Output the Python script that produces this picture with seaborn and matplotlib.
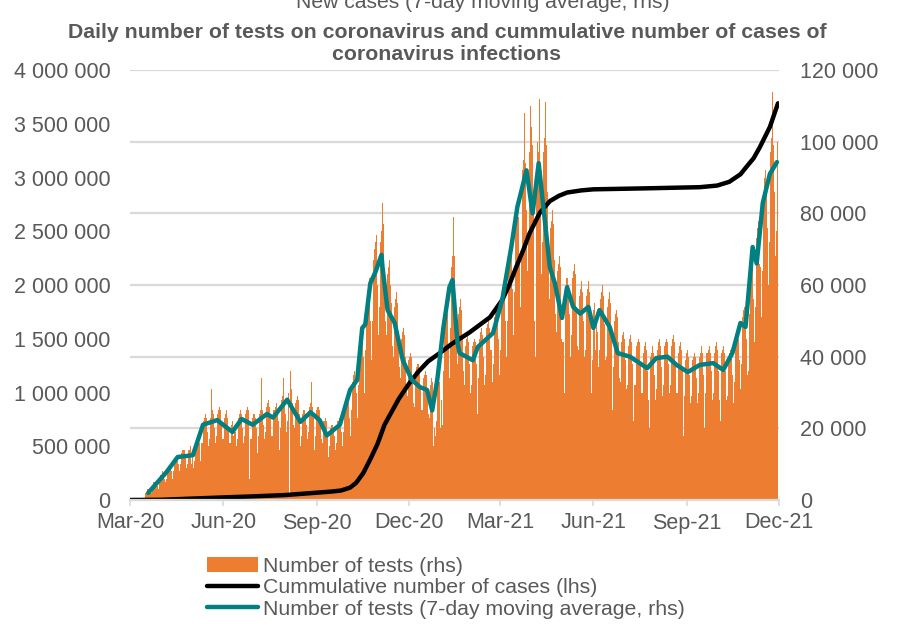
import numpy as np
import pandas as pd
import matplotlib
matplotlib.use("Agg")
import matplotlib.pyplot as plt
from matplotlib.lines import Line2D
from matplotlib.patches import Patch
from matplotlib.ticker import FuncFormatter, MultipleLocator
import seaborn as sns

# ─── Data ────────────────────────────────────────────────────────────────────

# daily number of tests, thousands, one row per week (Mon..Sun), from 2020-03-16
TESTS_START = "2020-03-16"
tests_spring_2020 = [
    2, 2, 3, 3, 3, 3, 2,
    4, 5, 5, 5, 5, 4, 3,
    5, 7, 7, 8, 7, 6, 5,
    6, 9, 9, 9, 9, 8, 6,
    8, 11, 11, 12, 11, 10, 8,
    10, 13, 14, 14, 14, 12, 9,
    10, 14, 14, 15, 10, 12, 9,
    11, 14, 17, 18, 19, 16, 11,
    16, 22, 23, 24, 23, 19, 15,
    17, 23, 31, 25, 24, 20, 16,
    18, 24, 25, 26, 25, 21, 17,
    17, 23, 24, 25, 23, 20, 16,
    16, 21, 22, 18, 21, 19, 15,
]
tests_summer_2020 = [
    17, 23, 24, 25, 24, 20, 16,
    18, 24, 25, 26, 25, 6, 17,
    17, 23, 24, 24, 23, 20, 13,
    18, 24, 25, 34, 25, 21, 17,
    19, 26, 27, 28, 26, 23, 18,
    18, 25, 26, 27, 25, 22, 14,
    20, 28, 29, 34, 28, 24, 19,
    22, 30, 1, 36, 31, 27, 21,
    20, 27, 28, 29, 28, 24, 15,
    18, 24, 25, 25, 24, 21, 17,
    19, 26, 27, 33, 26, 23, 14,
    18, 25, 26, 26, 25, 22, 17,
    16, 22, 22, 23, 22, 19, 12,
]
tests_autumn_2020 = [
    15, 20, 21, 21, 20, 18, 14,
    16, 22, 22, 23, 22, 19, 15,
    19, 26, 27, 28, 27, 23, 18,
    25, 33, 35, 36, 34, 30, 23,
    32, 43, 45, 46, 48, 40, 30,
    42, 56, 58, 60, 62, 50, 39,
    50, 67, 70, 72, 74, 60, 46,
    54, 72, 75, 83, 77, 64, 50,
    46, 63, 65, 67, 60, 55, 43,
    40, 54, 56, 58, 55, 47, 37,
    34, 45, 47, 48, 46, 40, 31,
    29, 39, 40, 41, 40, 34, 27,
    26, 36, 37, 38, 36, 31, 25,
    25, 34, 35, 36, 35, 30, 24,
    23, 32, 34, 33, 15, 20, 18,
    22, 32, 36, 33, 20, 28, 21,
]
tests_spring_2021 = [
    36, 49, 52, 54, 52, 43, 34,
    48, 65, 68, 79, 68, 57, 45,
    38, 52, 54, 56, 53, 46, 36,
    32, 43, 45, 46, 44, 38, 30,
    32, 43, 44, 45, 44, 38, 24,
    34, 45, 47, 48, 46, 40, 32,
    35, 48, 49, 51, 48, 42, 33,
    38, 51, 53, 54, 52, 45, 35,
    42, 57, 59, 61, 58, 50, 40,
    50, 67, 69, 71, 68, 59, 46,
    58, 78, 81, 83, 79, 68, 54,
    68, 92, 95, 108, 94, 81, 64,
    72, 97, 110, 104, 99, 86, 50,
    40, 88, 100, 97, 112, 85, 63,
]
tests_summer_2021 = [
    72, 97, 101, 111, 99, 86, 68,
    56, 76, 78, 81, 77, 67, 52,
    47, 64, 66, 68, 65, 45, 44,
    30, 56, 62, 62, 60, 52, 40,
    46, 62, 64, 66, 63, 54, 43,
    42, 57, 59, 61, 58, 50, 40,
    42, 57, 59, 61, 58, 50, 30,
    39, 53, 55, 42, 52, 47, 37,
    42, 56, 58, 60, 57, 49, 39,
    40, 54, 56, 58, 55, 47, 25,
    37, 50, 52, 53, 51, 44, 34,
    33, 44, 46, 47, 45, 39, 31,
    32, 43, 45, 46, 44, 38, 22,
    32, 43, 44, 45, 44, 38, 30,
    30, 41, 43, 44, 42, 36, 28,
    20, 40, 41, 43, 41, 35, 28,
]
tests_autumn_2021 = [
    31, 42, 44, 45, 43, 37, 29,
    32, 43, 44, 45, 44, 38, 30,
    32, 43, 45, 46, 44, 38, 30,
    30, 41, 43, 44, 42, 36, 18,
    29, 39, 41, 42, 40, 35, 27,
    29, 39, 40, 41, 40, 34, 27,
    30, 40, 41, 43, 41, 35, 20,
    30, 41, 42, 43, 41, 36, 28,
    30, 41, 43, 44, 42, 36, 28,
    22, 41, 42, 43, 41, 36, 28,
    29, 39, 41, 42, 40, 35, 27,
    33, 44, 46, 47, 45, 39, 31,
    38, 51, 53, 54, 52, 45, 35,
    36, 52, 66, 68, 65, 56, 44,
    54, 73, 76, 78, 66, 65, 51,
    64, 86, 90, 92, 88, 76, 60,
    72, 97, 101, 114, 99, 86, 68,
    75, 100,
]

# 7-day moving average of tests, thousands
avg_dates = [
    "2020-03-19", "2020-04-06", "2020-04-17", "2020-05-02", "2020-05-12",
    "2020-05-26", "2020-06-10", "2020-06-19", "2020-06-30", "2020-07-14",
    "2020-07-20", "2020-08-03", "2020-08-16", "2020-08-26", "2020-09-04",
    "2020-09-11", "2020-09-24", "2020-10-04", "2020-10-11", "2020-10-16",
    "2020-10-19", "2020-10-24", "2020-10-29", "2020-11-04", "2020-11-05",
    "2020-11-10", "2020-11-17", "2020-11-25", "2020-12-04", "2020-12-12",
    "2020-12-19", "2020-12-24", "2020-12-29", "2021-01-04", "2021-01-10",
    "2021-01-13", "2021-01-18", "2021-01-20", "2021-02-02", "2021-02-07",
    "2021-02-22", "2021-03-03", "2021-03-12", "2021-03-18", "2021-03-27",
    "2021-04-02", "2021-04-08", "2021-04-19", "2021-04-24", "2021-05-01",
    "2021-05-06", "2021-05-12", "2021-05-19", "2021-05-27", "2021-06-01",
    "2021-06-07", "2021-06-17", "2021-06-25", "2021-07-07", "2021-07-24",
    "2021-08-02", "2021-08-13", "2021-08-22", "2021-09-02", "2021-09-14",
    "2021-09-27", "2021-10-07", "2021-10-16", "2021-10-24", "2021-10-29",
    "2021-11-05", "2021-11-09", "2021-11-15", "2021-11-22", "2021-11-29",
]
avg_tests_k = [
    2, 7.8, 12, 12.5, 21,
    22.3, 19, 22.6, 21, 24,
    23, 28, 21.8, 24.5, 22.3,
    18, 21, 30.7, 33.5, 48,
    49, 60.5, 63.6, 68.4, 65,
    53, 49.4, 39, 33.5, 31.5,
    30.7, 25, 33.5, 48, 59.4,
    61.4, 43.8, 41, 39, 42.7,
    46.6, 55.8, 70.6, 81.8, 92,
    80, 94, 65, 60.5, 50.8,
    59.4, 53.9, 52, 53.9, 48,
    53, 48.3, 41, 40, 36.8,
    39.6, 40, 37.7, 35.7, 37.7,
    38.2, 36.3, 41, 49.4, 48.3,
    70.6, 66, 82.9, 91, 94.3,
]

# cumulative number of cases, millions
cases_dates = [
    "2020-03-01", "2020-04-01", "2020-05-01", "2020-06-01", "2020-07-01",
    "2020-08-01", "2020-09-01", "2020-09-15", "2020-09-25", "2020-10-04",
    "2020-10-10", "2020-10-17", "2020-10-24", "2020-10-31", "2020-11-07",
    "2020-11-14", "2020-11-21", "2020-12-01", "2020-12-10", "2020-12-20",
    "2021-01-01", "2021-01-12", "2021-01-30", "2021-02-19", "2021-03-03",
    "2021-03-10", "2021-03-17", "2021-03-24", "2021-03-30", "2021-04-09",
    "2021-04-19", "2021-04-28", "2021-05-06", "2021-05-20", "2021-06-01",
    "2021-07-27", "2021-09-14", "2021-10-01", "2021-10-13", "2021-10-24",
    "2021-10-30", "2021-11-06", "2021-11-12", "2021-11-22", "2021-11-30",
]
cases_m = [
    0, 0.002, 0.013, 0.024, 0.034,
    0.046, 0.068, 0.078, 0.088, 0.115,
    0.16, 0.25, 0.38, 0.52, 0.70,
    0.82, 0.94, 1.08, 1.19, 1.29,
    1.37, 1.45, 1.56, 1.70, 1.86,
    2.00, 2.17, 2.33, 2.48, 2.67,
    2.78, 2.83, 2.86, 2.88, 2.89,
    2.90, 2.91, 2.925, 2.96, 3.03,
    3.10, 3.18, 3.28, 3.47, 3.69,
]

xtick_dates = ["2020-03-01", "2020-06-01", "2020-09-01", "2020-12-01",
               "2021-03-01", "2021-06-01", "2021-09-01", "2021-12-01"]

TITLE_1 = "Daily number of tests on coronavirus and cummulative number of cases of"
TITLE_2 = "coronavirus infections"
TOP_CUT = "New cases (7-day moving average, rhs)"
LABELS = ["Number of tests (rhs)",
          "Cummulative number of cases (lhs)",
          "Number of tests (7-day moving average, rhs)"]

ORANGE = "#ED7D31"
TEAL = "#008080"
GREY_TXT = "#595959"
GRID = "#D9D9D9"


def space_thousands(v, _pos=None):
    return f"{int(round(v)):,}".replace(",", " ")


# ─── Plot ────────────────────────────────────────────────────────────────────

sns.set_theme(style="white")
plt.rcParams["font.family"] = ["Liberation Sans", "DejaVu Sans"]

tests_k = np.array(tests_spring_2020 + tests_summer_2020 + tests_autumn_2020
                   + tests_spring_2021 + tests_summer_2021 + tests_autumn_2021,
                   dtype=float)
test_days = pd.date_range(TESTS_START, periods=len(tests_k), freq="D")

fig = plt.figure(figsize=(9, 6.25), dpi=100)
ax = fig.add_axes([130 / 900, 1 - 500 / 625, 649 / 900, 430 / 625])
ax_bars = ax.twinx()
ax_avg = ax.twinx()
ax_bars.set_zorder(0)
ax.set_zorder(1)
ax_avg.set_zorder(2)
ax.patch.set_visible(False)

# bars + grid (right scale)
ax_bars.set_axisbelow(True)
ax_bars.yaxis.grid(True, color=GRID, linewidth=1.6)
ax_bars.bar(test_days, tests_k * 1000, width=1.0, color=ORANGE, linewidth=0)

# cumulative cases (left scale)
sns.lineplot(x=pd.to_datetime(cases_dates), y=np.array(cases_m) * 1e6, ax=ax,
             color="black", linewidth=3.2, legend=False)

# 7-day average (right scale)
sns.lineplot(x=pd.to_datetime(avg_dates), y=np.array(avg_tests_k) * 1000, ax=ax_avg,
             color=TEAL, linewidth=3.2, legend=False)

ax.set_xlim(pd.Timestamp("2020-03-01"), pd.Timestamp("2021-12-01"))
ax.set_ylim(0, 4_000_000)
ax_bars.set_ylim(0, 120_000)
ax_avg.set_ylim(0, 120_000)

ax.yaxis.set_major_locator(MultipleLocator(500_000))
ax.yaxis.set_major_formatter(FuncFormatter(space_thousands))
ax_bars.yaxis.set_major_locator(MultipleLocator(20_000))
ax_bars.yaxis.set_major_formatter(FuncFormatter(space_thousands))
ax_avg.set_yticks([])

xt = pd.to_datetime(xtick_dates)
ax.set_xticks(xt)
ax.set_xticklabels([d.strftime("%b-%y") for d in xt])

for a in (ax, ax_bars, ax_avg):
    a.set_xlabel("")
    a.set_ylabel("")
    for s in a.spines.values():
        s.set_visible(False)
ax.spines["bottom"].set_visible(True)
ax.spines["bottom"].set_color(GRID)
ax.spines["bottom"].set_linewidth(1.6)

ax.tick_params(axis="x", length=4, width=1.2, color=GRID, pad=5,
               labelsize=15.5, labelcolor=GREY_TXT, bottom=True)
ax.tick_params(axis="y", length=0, pad=14, labelsize=15.5, labelcolor=GREY_TXT)
ax_bars.tick_params(axis="y", length=0, pad=15, labelsize=15.5, labelcolor=GREY_TXT)

# titles
fig.text(483 / 900, 1 - 8 / 625, TOP_CUT, ha="center", va="baseline",
         fontsize=15.2, color=GREY_TXT)
fig.text(447 / 900, 1 - 32 / 625, TITLE_1, ha="center", va="center",
         fontsize=15.3, fontweight="bold", color=GREY_TXT)
fig.text(447 / 900, 1 - 55 / 625, TITLE_2, ha="center", va="center",
         fontsize=15.3, fontweight="bold", color=GREY_TXT)

handles = [Patch(facecolor=ORANGE, edgecolor="none"),
           Line2D([], [], color="black", linewidth=3.2),
           Line2D([], [], color=TEAL, linewidth=3.2)]
fig.legend(handles, LABELS, loc="upper left",
           bbox_to_anchor=(207 / 900, 1 - 557 / 625), frameon=False,
           fontsize=15.3, labelcolor=GREY_TXT, handlelength=2.4,
           handletextpad=0.25, labelspacing=0.11, borderpad=0, borderaxespad=0)

fig.savefig("out.png", dpi=100)
plt.close(fig)
